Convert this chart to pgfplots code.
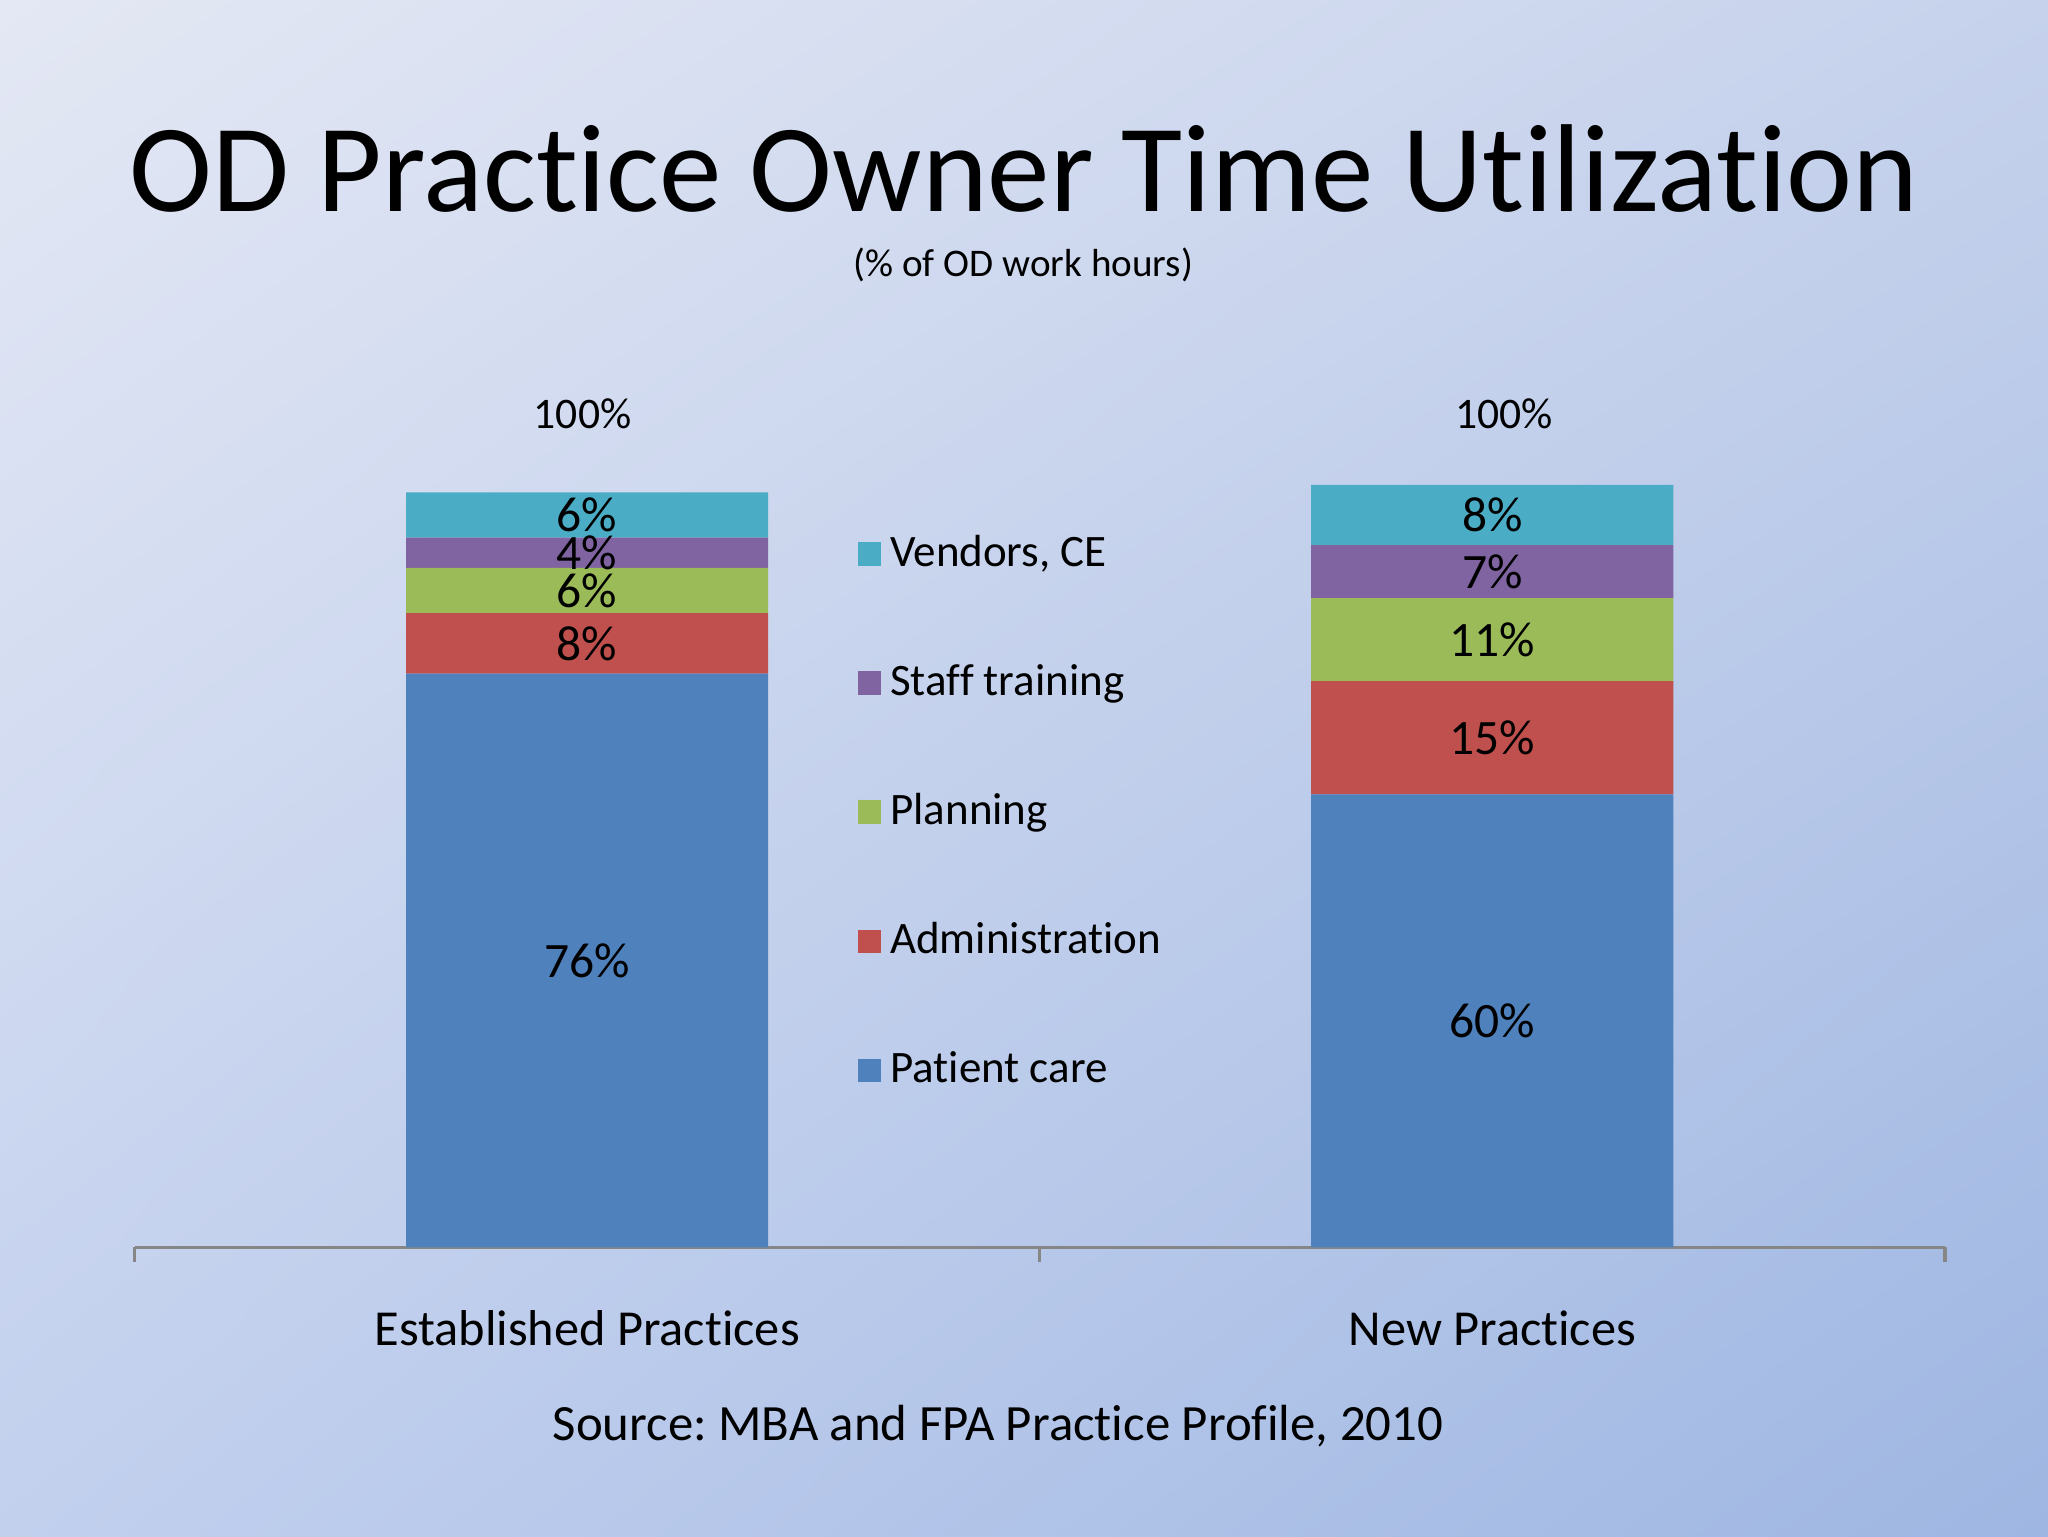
\documentclass[border=0pt]{standalone}
\usepackage{pgfplots}
\pgfplotsset{compat=1.18}
\usetikzlibrary{shadings}
\usepackage{fontspec}
\setmainfont{Carlito}[Ligatures=NoCommon]
\frenchspacing
\definecolor{cBlue}{HTML}{4F81BD}
\definecolor{cRed}{HTML}{C0504D}
\definecolor{cGreen}{HTML}{9BBB59}
\definecolor{cPurple}{HTML}{8064A2}
\definecolor{cCyan}{HTML}{4BACC6}
\definecolor{axisgray}{HTML}{868686}
\definecolor{bgUL}{HTML}{E4E8F4}
\definecolor{bgUR}{HTML}{C6D2EC}
\definecolor{bgLL}{HTML}{C2D0EE}
\definecolor{bgLR}{HTML}{9EB6E2}
\pgfplotsset{sqlegend/.style={legend image code/.code={\fill[##1,draw=none] (0cm,-0.092cm) rectangle (0.184cm,0.092cm);}}}
\pgfplotsset{frame/.style={at={(1.051cm,2.255cm)}, anchor=south west,
  scale only axis, width=14.143cm, height=6.488cm,
  xmin=-0.5, xmax=1.5, ymin=0, ymax=110, clip=false}}
\begin{document}
\begin{tikzpicture}
\path[use as bounding box] (0,0) rectangle (16,12);
\shade[upper left=bgUL, upper right=bgUR, lower left=bgLL, lower right=bgLR] (0,0) rectangle (16,12);
\node[anchor=base, font=\fontsize{27.8}{30}\selectfont] at (8,10.35) {OD Practice Owner Time Utilization};
\node[anchor=base, font=\fontsize{8.7}{10}\selectfont] at (7.995,9.837) {(\% of OD work hours)};
\node[anchor=base, font=\fontsize{11.3}{13}\selectfont] at (7.796,0.745) {Source: MBA and FPA Practice Profile, 2010};
\begin{axis}[
  frame,
  ybar stacked, bar width=0.4,
  hide y axis,
  axis x line*=bottom,
  x axis line style={draw=axisgray, line width=0.8pt},
  xtick={0,1}, xticklabels={Established Practices, New Practices},
  major tick length=0pt,
  minor xtick={-0.5,0.5,1.5}, minor tick length=0.112cm, tick align=outside,
  minor tick style={axisgray, line width=0.8pt},
  xticklabel style={font=\fontsize{11.2}{13}\selectfont, anchor=base, yshift=-0.765cm},
  reverse legend,
  legend style={at={(0.399,0.524)}, anchor=west, draw=none, fill=none, inner sep=0pt,
    row sep=16.3pt, font=\fontsize{10}{12}\selectfont},
  legend cell align=left,
]
\addplot[fill=cBlue, draw=none, sqlegend] coordinates {(0,76) (1,60)};
\addplot[fill=cRed, draw=none, sqlegend] coordinates {(0,8) (1,15)};
\addplot[fill=cGreen, draw=none, sqlegend] coordinates {(0,6) (1,11)};
\addplot[fill=cPurple, draw=none, sqlegend] coordinates {(0,4) (1,7)};
\addplot[fill=cCyan, draw=none, sqlegend] coordinates {(0,6) (1,8)};
\legend{Patient care, Administration, Planning, Staff training, {Vendors, CE}}
\end{axis}
\begin{axis}[frame, hide axis]
\addplot[draw=none, mark=none, nodes near coords, point meta=explicit symbolic,
  nodes near coords style={font=\fontsize{11}{13}\selectfont, anchor=center, text=black}]
  coordinates {(0,38) [76\%] (0,80) [8\%] (0,87) [6\%] (0,92) [4\%] (0,97) [6\%]
               (1,30) [60\%] (1,67.5) [15\%] (1,80.5) [11\%] (1,89.5) [7\%] (1,97) [8\%]};
\addplot[draw=none, mark=none, nodes near coords, point meta=explicit symbolic,
  nodes near coords style={font=\fontsize{9.7}{11}\selectfont, anchor=base, text=black}]
  coordinates {(-0.005,108.4) [100\%] (1.013,108.4) [100\%]};
\end{axis}
\end{tikzpicture}
\end{document}
